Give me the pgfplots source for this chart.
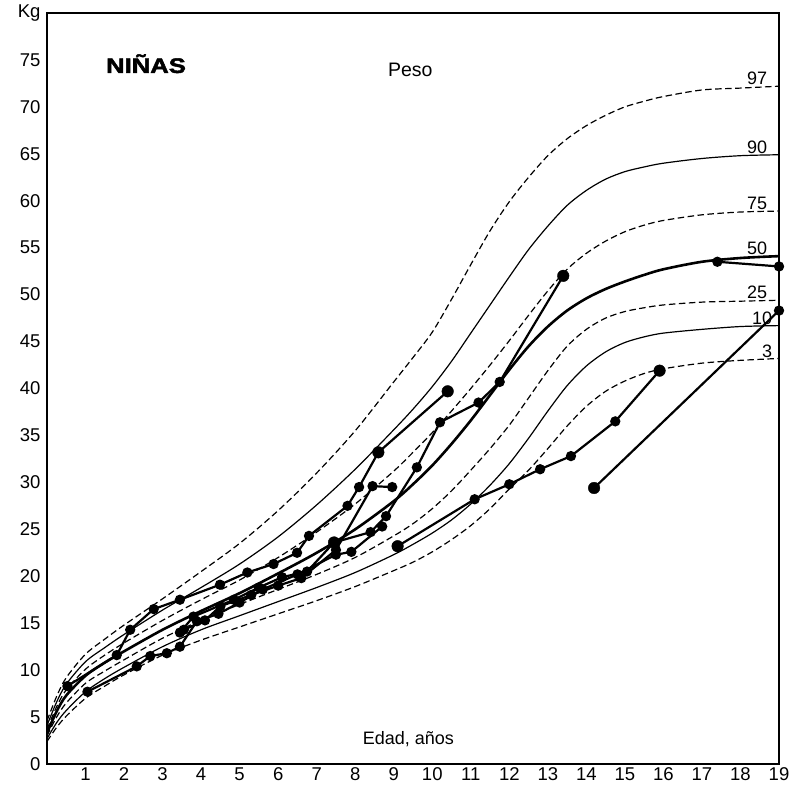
\documentclass[border=0pt]{standalone}
\usepackage{fontspec}
\setmainfont{Liberation Sans}
\usepackage{graphicx}
\usepackage{pgfplots}
\usepackage{pgfplotstable}
\pgfplotsset{compat=1.18}

\pgfplotstableread{
age  p3   p10  p25  p50  p75  p90  p97
0    2.4  2.7  3.0  3.3  3.7  4.1  4.6
0.25 3.9  4.4  5.0  5.6  6.1  6.6  7.2
0.5  5.1  5.7  6.5  7.3  7.9  8.5  9.2
1    7.0  7.7  8.6  9.4  10.1 10.9 11.7
1.5  8.3  9.1  9.9  10.8 11.6 12.4 13.3
2    9.5  10.3 11.1 12.0 12.9 13.8 14.8
3    11.6 12.5 13.4 14.3 15.3 16.4 17.6
4    13.2 14.3 15.3 16.3 17.5 18.8 20.5
5    14.6 15.8 17.0 18.2 19.6 21.3 23.5
6    16.0 17.3 18.6 20.3 22.0 24.2 27.0
7    17.4 18.8 20.2 22.5 24.7 27.6 31.0
8    18.9 20.4 22.0 25.0 27.7 31.4 35.5
9    20.6 22.3 24.3 28.0 31.2 35.6 40.7
9.5  21.5 23.4 25.6 29.8 33.2 37.8 43.3
10   22.6 24.6 27.2 31.8 35.3 40.2 46.0
10.5 23.9 26.0 29.1 34.1 37.6 42.9 49.5
11   25.4 27.7 31.3 36.6 40.0 45.9 53.2
11.5 27.2 29.7 33.6 39.3 42.5 48.9 56.8
12   29.3 32.0 36.1 42.0 45.1 51.9 59.9
12.5 31.3 34.7 39.0 44.5 47.8 54.8 62.5
13   33.6 37.6 41.9 46.6 50.4 57.3 64.8
13.5 36.0 40.3 44.5 48.3 52.7 59.5 66.6
14   38.1 42.4 46.3 49.6 54.4 61.1 68.0
14.5 39.7 43.9 47.5 50.6 55.7 62.3 69.1
15   40.8 44.9 48.2 51.4 56.7 63.1 70.0
15.5 41.6 45.5 48.6 52.1 57.4 63.6 70.6
16   42.1 45.9 48.9 52.7 57.9 64.0 71.1
17   42.7 46.3 49.2 53.5 58.5 64.5 71.8
18   43.0 46.6 49.3 53.9 58.8 64.8 72.0
19   43.2 46.7 49.4 54.1 58.9 64.9 72.2
}\curves

\tikzset{
  perc/.style={black, line width=1.2pt, smooth, no marks},
  percd/.style={black, line width=1.2pt, smooth, no marks, dash pattern=on 6.5pt off 3.5pt},
  kid/.style={black, line width=2.2pt, mark=*, mark size=4pt, mark options={solid}},
  big/.style={only marks, mark=*, mark size=5.8pt, black},
  clab/.style={anchor=south east, inner sep=1pt, font=\fontsize{18}{20}\selectfont},
}

\begin{document}
\begin{tikzpicture}
\begin{axis}[
  name=main,
  scale only axis,
  width=732pt, height=751pt,
  xmin=0, xmax=19, ymin=0, ymax=80,
  xtick={1,...,19},
  ytick={0,5,...,80},
  yticklabels={0,5,10,15,20,25,30,35,40,45,50,55,60,65,70,75,Kg},
  axis line style={line width=1.8pt},
  major tick length=0pt,
  tick style={draw=none},
  ticklabel style={font=\fontsize{18.5}{20}\selectfont},
  /pgf/number format/assume math mode=true,
  yticklabel style={xshift=-3pt},
]
% percentile curves
\addplot[percd] table[x=age,y=p97] {\curves};
\addplot[perc]  table[x=age,y=p90] {\curves};
\addplot[percd] table[x=age,y=p75] {\curves};
\addplot[black, line width=2.6pt, smooth, no marks] table[x=age,y=p50] {\curves};
\addplot[percd] table[x=age,y=p25] {\curves};
\addplot[perc]  table[x=age,y=p10] {\curves};
\addplot[percd] table[x=age,y=p3]  {\curves};

% individual girls
\addplot[kid] coordinates {(0.53,8.3) (1.81,11.6) (2.16,14.3) (2.77,16.5) (3.45,17.5) (4.49,19.1) (5.2,20.4) (5.88,21.3) (6.49,22.5) (6.8,24.3) (7.8,27.5) (8.1,29.5) (8.6,33.2) (10.4,39.7)};
\addplot[kid] coordinates {(1.05,7.7) (2.33,10.4) (2.68,11.5) (3.11,11.8) (3.45,12.5) (3.89,15.2) (4.45,16.0) (5.0,17.2) (5.6,18.6) (6.5,20.2) (7.5,22.3) (7.9,22.6) (8.7,25.3)};
\addplot[kid] coordinates {(3.45,14.0) (3.8,15.7) (4.85,17.5) (5.5,18.8) (6.1,19.9) (6.75,20.5) (7.45,23.6) (8.4,24.7) (8.8,26.4) (9.6,31.6) (10.2,36.4) (11.2,38.5) (11.75,40.7) (13.4,52.0)};
\addplot[kid] coordinates {(3.55,14.3) (4.1,15.3) (4.5,16.8) (5.3,18.0) (6.0,19.0) (6.6,19.8) (7.5,22.8) (8.45,29.6) (8.96,29.5)};
\addplot[kid] coordinates {(9.1,23.2) (11.1,28.2) (12.0,29.8) (12.8,31.4) (13.6,32.8) (14.75,36.5) (15.9,41.9)};
\addplot[kid] coordinates {(14.2,29.4) (19.0,48.3)};
\addplot[kid] coordinates {(17.4,53.5) (19.0,53.0)};
\addplot[big] coordinates {(14.2,29.4) (13.4,52.0) (10.4,39.7) (8.6,33.2) (15.9,41.9) (7.45,23.6) (9.1,23.2)};

% labels
\node[clab] at (axis cs:18.72,72.2) {97};
\node[clab] at (axis cs:18.72,64.9) {90};
\node[clab] at (axis cs:18.72,58.9) {75};
\node[clab] at (axis cs:18.72,54.1) {50};
\node[clab] at (axis cs:18.72,49.4) {25};
\node[clab] at (axis cs:18.85,46.7) {10};
\node[clab] at (axis cs:18.85,43.2) {3};

\node[font=\fontsize{21}{24}\selectfont\bfseries\addfontfeature{FakeBold=2}] at (axis cs:2.57,74.6) {\scalebox{1.22}[1]{NIÑAS}};
\node[font=\fontsize{19.5}{22}\selectfont] at (axis cs:9.43,73.9) {Peso};
\node[font=\fontsize{18}{20}\selectfont] at (axis cs:9.38,2.6) {Edad, años};
\end{axis}
\path ([xshift=-47pt,yshift=-33pt]main.south west) rectangle ([xshift=15pt,yshift=13pt]main.north east);
\end{tikzpicture}
\end{document}
